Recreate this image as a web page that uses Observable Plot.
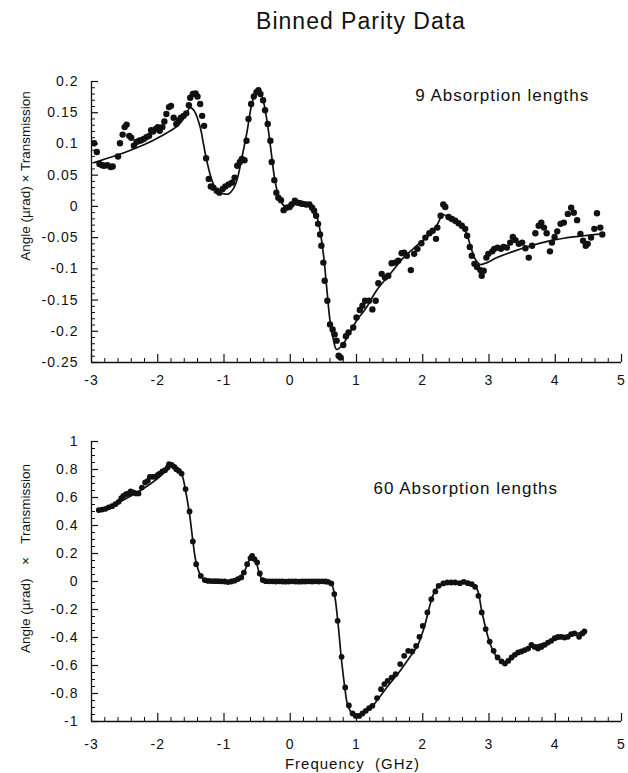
<!DOCTYPE html>
<html><head><meta charset="utf-8">
<script src="https://cdn.jsdelivr.net/npm/d3@7"></script>
<script src="https://cdn.jsdelivr.net/npm/@observablehq/plot@0.6"></script>
<style>
body{margin:0;background:#fff;font-family:"Liberation Sans",Arial,sans-serif;}
#wrap{position:relative;width:628px;height:773px;overflow:hidden;background:#fff;}
#title{position:absolute;left:161px;width:400px;top:8px;text-align:center;font-size:23px;letter-spacing:1px;line-height:26px;color:#111;}
#p1{position:absolute;left:0;top:45px;}
#p2{position:absolute;left:0;top:400px;}
</style></head>
<body><div id="wrap"><div id="title">Binned Parity Data</div><div id="p1"></div><div id="p2"></div></div>
<script>
// ---------- data ----------
const titleText = "Binned Parity Data";
const xDomain = [-3, 5];
const xMajor = [-3, -2, -1, 0, 1, 2, 3, 4, 5];
const xMinor = [-2.8,-2.6,-2.4,-2.2,-1.8,-1.6,-1.4,-1.2,-0.8,-0.6,-0.4,-0.2,0.2,0.4,0.6,0.8,1.2,1.4,1.6,1.8,2.2,2.4,2.6,2.8,3.2,3.4,3.6,3.8,4.2,4.4,4.6,4.8];

// top panel (9 absorption lengths)
const topYDomain = [-0.25, 0.2];
const topYMajor = [-0.25, -0.2, -0.15, -0.1, -0.05, 0, 0.05, 0.1, 0.15, 0.2];
const topYMinor = [-0.24,-0.23,-0.22,-0.21,-0.19,-0.18,-0.17,-0.16,-0.14,-0.13,-0.12,-0.11,-0.09,-0.08,-0.07,-0.06,-0.04,-0.03,-0.02,-0.01,0.01,0.02,0.03,0.04,0.06,0.07,0.08,0.09,0.11,0.12,0.13,0.14,0.16,0.17,0.18,0.19];
const topNote = "9 Absorption lengths";
const topNoteX = 3.2, topNoteY = 0.177;
const topPtsX = [-2.96,-2.92,-2.88,-2.84,-2.81,-2.76,-2.71,-2.68,-2.60,-2.57,-2.53,-2.50,-2.47,-2.43,-2.40,-2.36,-2.32,-2.28,-2.25,-2.21,-2.17,-2.13,-2.10,-2.07,-2.03,-2.00,-1.97,-1.93,-1.90,-1.87,-1.83,-1.80,-1.76,-1.72,-1.68,-1.65,-1.61,-1.57,-1.53,-1.51,-1.47,-1.43,-1.40,-1.36,-1.33,-1.30,-1.27,-1.23,-1.20,-1.16,-1.11,-1.07,-1.02,-0.98,-0.93,-0.88,-0.84,-0.80,-0.76,-0.73,-0.69,-0.66,-0.63,-0.59,-0.55,-0.51,-0.48,-0.45,-0.41,-0.38,-0.34,-0.30,-0.28,-0.24,-0.21,-0.18,-0.14,-0.10,-0.06,-0.01,0.02,0.07,0.11,0.15,0.19,0.24,0.29,0.33,0.36,0.39,0.42,0.45,0.47,0.50,0.52,0.56,0.60,0.64,0.67,0.70,0.73,0.76,0.80,0.84,0.88,0.95,1.00,1.05,1.09,1.13,1.19,1.24,1.29,1.33,1.38,1.43,1.48,1.53,1.58,1.63,1.68,1.72,1.76,1.82,1.87,1.92,1.98,2.04,2.10,2.15,2.20,2.22,2.27,2.31,2.34,2.39,2.44,2.49,2.54,2.59,2.64,2.67,2.71,2.74,2.78,2.82,2.87,2.89,2.92,2.96,2.99,3.05,3.08,3.13,3.18,3.22,3.27,3.32,3.36,3.40,3.45,3.50,3.55,3.60,3.65,3.70,3.75,3.79,3.83,3.87,3.92,3.95,3.99,4.03,4.08,4.13,4.19,4.24,4.28,4.33,4.38,4.42,4.46,4.49,4.54,4.59,4.63,4.68,4.71];
const topPtsY = [0.101,0.087,0.068,0.066,0.065,0.066,0.063,0.064,0.080,0.101,0.115,0.127,0.131,0.113,0.110,0.097,0.103,0.105,0.106,0.108,0.111,0.113,0.122,0.120,0.124,0.127,0.121,0.127,0.136,0.148,0.159,0.161,0.142,0.132,0.138,0.142,0.145,0.149,0.162,0.174,0.180,0.181,0.176,0.164,0.145,0.129,0.077,0.044,0.032,0.030,0.025,0.022,0.028,0.032,0.035,0.038,0.046,0.065,0.071,0.076,0.074,0.105,0.140,0.164,0.176,0.183,0.186,0.180,0.170,0.154,0.132,0.105,0.071,0.042,0.022,0.014,0.010,-0.006,-0.002,-0.001,0.003,0.009,0.006,0.005,0.004,0.003,0.003,-0.002,-0.007,-0.015,-0.028,-0.045,-0.063,-0.090,-0.119,-0.151,-0.189,-0.197,-0.205,-0.215,-0.239,-0.242,-0.222,-0.208,-0.202,-0.194,-0.178,-0.166,-0.159,-0.151,-0.151,-0.165,-0.151,-0.123,-0.108,-0.114,-0.111,-0.091,-0.090,-0.087,-0.075,-0.074,-0.079,-0.102,-0.076,-0.068,-0.059,-0.050,-0.043,-0.039,-0.052,-0.034,-0.015,0.003,-0.001,-0.017,-0.020,-0.023,-0.027,-0.031,-0.036,-0.047,-0.065,-0.079,-0.092,-0.097,-0.102,-0.111,-0.103,-0.082,-0.076,-0.072,-0.068,-0.066,-0.068,-0.065,-0.066,-0.058,-0.049,-0.054,-0.060,-0.058,-0.067,-0.082,-0.063,-0.043,-0.031,-0.026,-0.034,-0.043,-0.072,-0.058,-0.049,-0.040,-0.028,-0.026,-0.012,-0.002,-0.010,-0.022,-0.044,-0.055,-0.063,-0.060,-0.050,-0.036,-0.011,-0.034,-0.045];
const topFitX = [-2.96,-2.7,-2.46,-2.2,-1.96,-1.71,-1.6,-1.51,-1.45,-1.36,-1.31,-1.26,-1.18,-1.11,-1.0,-0.93,-0.86,-0.80,-0.73,-0.65,-0.58,-0.50,-0.43,-0.36,-0.29,-0.23,-0.15,-0.05,0.05,0.25,0.35,0.42,0.5,0.55,0.6,0.65,0.70,0.80,0.90,1.0,1.15,1.30,1.51,1.71,1.91,2.11,2.21,2.31,2.41,2.54,2.64,2.72,2.79,2.87,2.97,3.12,3.37,3.63,3.88,4.13,4.43,4.71];
const topFitY = [0.070,0.079,0.088,0.099,0.112,0.128,0.142,0.158,0.153,0.127,0.100,0.073,0.041,0.026,0.020,0.020,0.028,0.044,0.078,0.121,0.164,0.187,0.177,0.143,0.089,0.041,0.009,-0.002,0.003,0.003,-0.004,-0.023,-0.076,-0.130,-0.183,-0.213,-0.229,-0.220,-0.202,-0.183,-0.162,-0.135,-0.108,-0.082,-0.063,-0.044,-0.031,-0.013,-0.022,-0.028,-0.039,-0.063,-0.084,-0.093,-0.090,-0.082,-0.072,-0.063,-0.056,-0.051,-0.047,-0.044];

// bottom panel (60 absorption lengths)
const botYDomain = [-1, 1];
const botYMajor = [-1, -0.8, -0.6, -0.4, -0.2, 0, 0.2, 0.4, 0.6, 0.8, 1];
const botYMinor = [-0.95,-0.9,-0.85,-0.75,-0.7,-0.65,-0.55,-0.5,-0.45,-0.35,-0.3,-0.25,-0.15,-0.1,-0.05,0.05,0.1,0.15,0.25,0.3,0.35,0.45,0.5,0.55,0.65,0.7,0.75,0.85,0.9,0.95];
const botNote = "60 Absorption lengths";
const botNoteX = 2.65, botNoteY = 0.664;
const botPtsX = [-2.89,-2.84,-2.79,-2.74,-2.69,-2.64,-2.59,-2.55,-2.52,-2.48,-2.44,-2.41,-2.37,-2.33,-2.29,-2.24,-2.19,-2.15,-2.12,-2.08,-2.04,-2.00,-1.97,-1.93,-1.89,-1.85,-1.83,-1.79,-1.75,-1.72,-1.68,-1.64,-1.58,-1.52,-1.47,-1.42,-1.35,-1.29,-1.24,-1.19,-1.14,-1.09,-1.04,-0.99,-0.94,-0.89,-0.84,-0.79,-0.74,-0.70,-0.65,-0.60,-0.575,-0.54,-0.50,-0.46,-0.415,-0.37,-0.32,-0.27,-0.22,-0.17,-0.12,-0.07,-0.02,0.03,0.08,0.13,0.18,0.23,0.28,0.33,0.38,0.43,0.48,0.53,0.57,0.62,0.665,0.715,0.775,0.83,0.885,0.94,0.99,1.04,1.09,1.14,1.19,1.24,1.31,1.37,1.42,1.47,1.53,1.59,1.66,1.72,1.78,1.84,1.90,1.95,2.00,2.07,2.13,2.19,2.24,2.31,2.37,2.43,2.49,2.56,2.62,2.68,2.74,2.79,2.84,2.89,2.95,3.01,3.07,3.13,3.19,3.24,3.29,3.34,3.39,3.44,3.49,3.54,3.59,3.64,3.69,3.74,3.79,3.84,3.89,3.94,3.99,4.04,4.09,4.14,4.19,4.24,4.29,4.36,4.41,4.44];
const botPtsY = [0.510,0.514,0.519,0.529,0.538,0.552,0.569,0.595,0.612,0.624,0.629,0.643,0.636,0.629,0.629,0.671,0.707,0.719,0.748,0.748,0.748,0.762,0.771,0.786,0.795,0.814,0.838,0.833,0.819,0.802,0.790,0.771,0.660,0.500,0.286,0.124,0.040,0.010,0.004,0.003,0.002,0.002,0.001,0.000,-0.004,0.000,0.006,0.017,0.029,0.064,0.124,0.167,0.183,0.160,0.136,0.057,0.010,0.002,0.001,0.001,0.000,0.001,0.000,-0.001,0.000,0.001,0.000,-0.001,0.000,0.000,0.001,0.000,0.001,0.000,0.001,0.000,-0.002,-0.014,-0.090,-0.281,-0.538,-0.757,-0.885,-0.943,-0.960,-0.960,-0.943,-0.924,-0.905,-0.888,-0.833,-0.769,-0.733,-0.710,-0.686,-0.662,-0.590,-0.531,-0.495,-0.500,-0.460,-0.395,-0.317,-0.221,-0.126,-0.071,-0.031,-0.014,-0.007,-0.007,-0.007,-0.012,-0.002,-0.012,-0.019,-0.038,-0.102,-0.221,-0.340,-0.429,-0.495,-0.543,-0.571,-0.586,-0.567,-0.543,-0.524,-0.507,-0.500,-0.490,-0.479,-0.452,-0.467,-0.479,-0.467,-0.452,-0.436,-0.424,-0.405,-0.395,-0.395,-0.400,-0.395,-0.376,-0.371,-0.395,-0.371,-0.357];
const botFitX = [-2.89,-2.69,-2.54,-2.34,-2.14,-1.94,-1.83,-1.77,-1.69,-1.63,-1.58,-1.52,-1.47,-1.42,-1.35,-1.28,-1.14,-0.89,-0.79,-0.70,-0.64,-0.58,-0.53,-0.47,-0.42,-0.34,0.56,0.62,0.67,0.72,0.77,0.82,0.87,0.94,1.0,1.09,1.22,1.31,1.42,1.52,1.67,1.82,1.92,2.02,2.12,2.19,2.27,2.37,2.62,2.74,2.82,2.89,2.96,3.02,3.09,3.17,3.23,3.29,3.42,3.62,3.87,4.12,4.44];
const botFitY = [0.505,0.529,0.576,0.629,0.688,0.762,0.826,0.831,0.802,0.755,0.648,0.481,0.290,0.136,0.040,0.005,0.000,-0.002,0.014,0.064,0.129,0.183,0.160,0.064,0.010,0.000,0.000,-0.014,-0.100,-0.293,-0.543,-0.745,-0.888,-0.948,-0.967,-0.948,-0.900,-0.850,-0.780,-0.720,-0.630,-0.530,-0.460,-0.330,-0.150,-0.062,-0.024,-0.010,-0.007,-0.019,-0.055,-0.210,-0.352,-0.448,-0.519,-0.562,-0.579,-0.567,-0.519,-0.471,-0.436,-0.400,-0.357];

const yLabelTop = "Angle (\u00b5rad) \u00d7 Transmission";
const yLabelBot = "Angle (\u00b5rad)\u2002\u2002\u00d7\u2002\u2002Transmission";
const xLabel = "Frequency\u00a0\u00a0(GHz)";

// ---------- drawing ----------
const ink = "#111";
const font = "Liberation Sans, Arial, sans-serif";
const fmt = d => String(+(+d).toFixed(2)).replace("\u2212", "-");
const zip = (xs, ys) => xs.map((x, i) => ({x, y: ys[i]}));

function panel(o) {
  const W = 628, mL = 91, mR = 7;
  const plotW = W - mL - mR;
  const plotH = o.height - o.marginTop - o.marginBottom;
  const marks = [
    Plot.axisX({ticks: xMajor, tickSize: 0, tickPadding: o.xPad, tickFormat: fmt, label: null, fontSize: 14}),
    Plot.axisY({ticks: o.yMajor, tickSize: 0, tickPadding: 13, tickFormat: fmt, label: null, fontSize: 14}),
    Plot.ruleX([xDomain[0]], {stroke: ink, strokeWidth: 1.3}),
    Plot.ruleY([o.yDomain[0]], {stroke: ink, strokeWidth: 1.3}),
    Plot.tickX(xMajor, {x: d => d, insetTop: plotH - 8, stroke: ink, strokeWidth: 1.2}),
    Plot.tickX(xMinor, {x: d => d, insetTop: plotH - 4, stroke: ink}),
    Plot.tickY(o.yMajor, {y: d => d, insetRight: plotW - 7, stroke: ink, strokeWidth: 1.2}),
    Plot.tickY(o.yMinor, {y: d => d, insetRight: plotW - 4, stroke: ink}),
    Plot.line(zip(o.fitX, o.fitY), {x: "x", y: "y", curve: "catmull-rom", stroke: ink, strokeWidth: 1.7}),
    Plot.dot(zip(o.ptsX, o.ptsY), {x: "x", y: "y", r: o.r, fill: ink, stroke: null}),
    Plot.text([o.note], {x: o.noteX, y: o.noteY, text: d => d, fontSize: 17, fill: ink}),
    Plot.text([o.yLabel], {frameAnchor: "left", textAnchor: "middle", rotate: -90, dx: -66, dy: o.yLabelDy, text: d => d, fontSize: 13.5, fill: ink})
  ];
  if (o.xLabel) marks.push(Plot.text([o.xLabel], {frameAnchor: "bottom", dy: o.xLabelDy, dx: -4, text: d => d, fontSize: 15, fill: ink}));
  const svg = Plot.plot({
    width: W, height: o.height,
    marginLeft: mL, marginRight: mR, marginTop: o.marginTop, marginBottom: o.marginBottom,
    style: {fontFamily: font, fontSize: "14px", color: ink, background: "white", overflow: "visible", letterSpacing: "1px"},
    x: {domain: xDomain},
    y: {domain: o.yDomain},
    marks
  });
  // the vertical axis title is not stretched like the horizontal texts
  svg.querySelectorAll("text").forEach(t => {
    if (t.textContent.includes("Transmission")) t.style.letterSpacing = "0px";
  });
  return svg;
}

document.getElementById("title").textContent = titleText;

document.getElementById("p1").appendChild(panel({
  height: 350, marginTop: 36, marginBottom: 33, xPad: 13,
  yDomain: topYDomain, yMajor: topYMajor, yMinor: topYMinor,
  ptsX: topPtsX, ptsY: topPtsY, fitX: topFitX, fitY: topFitY, r: 3.2,
  note: topNote, noteX: topNoteX, noteY: topNoteY,
  yLabel: yLabelTop, yLabelDy: -46
}));

document.getElementById("p2").appendChild(panel({
  height: 373, marginTop: 41, marginBottom: 52, xPad: 18,
  yDomain: botYDomain, yMajor: botYMajor, yMinor: botYMinor,
  ptsX: botPtsX, ptsY: botPtsY, fitX: botFitX, fitY: botFitY, r: 2.9,
  note: botNote, noteX: botNoteX, noteY: botNoteY,
  yLabel: yLabelBot, yLabelDy: -23,
  xLabel: xLabel, xLabelDy: 47
}));
</script>
</body></html>
